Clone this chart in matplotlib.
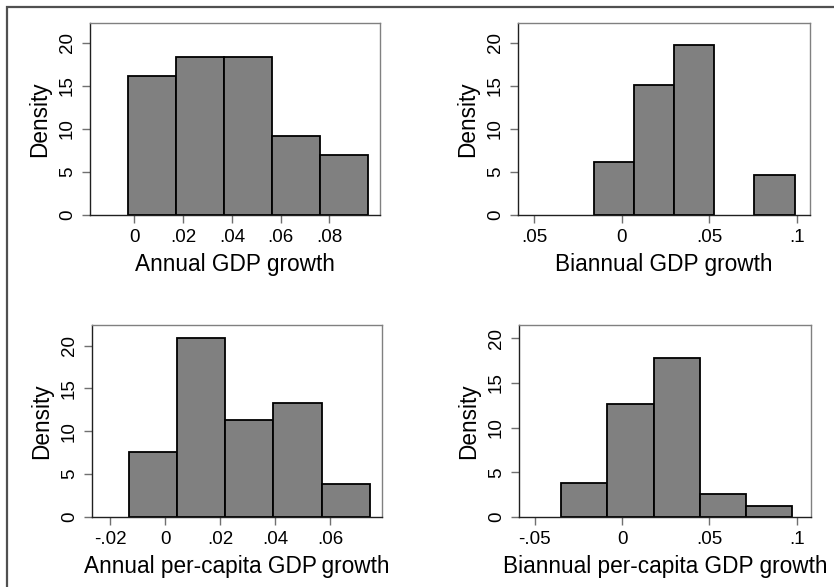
import matplotlib
matplotlib.use("Agg")
import matplotlib.pyplot as plt
from matplotlib.patches import Rectangle

plt.rcParams['font.family'] = ['Liberation Sans', 'DejaVu Sans']

W, H = 834, 587

# histogram data: bin start, bin width, densities
annual_start, annual_width = -0.0027, 0.01968
annual_dens = [16.1, 18.3, 18.3, 9.2, 7.0]

biannual_start, biannual_width = -0.0157, 0.02290
biannual_dens = [6.1, 15.1, 19.7, 0.0, 4.65]

pc_annual_start, pc_annual_width = -0.0133, 0.01753
pc_annual_dens = [7.6, 20.85, 11.36, 13.3, 3.84]

pc_biannual_start, pc_biannual_width = -0.0349, 0.02647
pc_biannual_dens = [3.84, 12.67, 17.77, 2.54, 1.23]

# panels: (start, width, densities, xlabel, xticks, xticklabels, xlim, ylim, box in px)
panels = [
    (annual_start, annual_width, annual_dens, 'Annual GDP growth',
     [0, 0.02, 0.04, 0.06, 0.08], ['0', '.02', '.04', '.06', '.08'],
     (-0.0182, 0.1008), (0, 22.3), (90, 23, 380, 215)),
    (biannual_start, biannual_width, biannual_dens, 'Biannual GDP growth',
     [-0.05, 0, 0.05, 0.1], ['.05', '0', '.05', '.1'],
     (-0.0591, 0.1076), (0, 22.3), (518, 23, 810, 215)),
    (pc_annual_start, pc_annual_width, pc_annual_dens, 'Annual per-capita GDP\u2009growth',
     [-0.02, 0, 0.02, 0.04, 0.06], ['-.02', '0', '.02', '.04', '.06'],
     (-0.02665, 0.0788), (0, 22.4), (92, 325, 382, 517)),
    (pc_biannual_start, pc_biannual_width, pc_biannual_dens, 'Biannual per-capita GDP growth',
     [-0.05, 0, 0.05, 0.1], ['-.05', '0', '.05', '.1'],
     (-0.0591, 0.1082), (0, 21.5), (519, 325, 811, 517)),
]

fig = plt.figure(figsize=(W / 100, H / 100), dpi=100)

# outer frame (left and top edges visible)
fig.patches.append(Rectangle((6.5 / W, -0.1), 1.2, (H - 6.5) / H + 0.1,
                             transform=fig.transFigure, fill=False,
                             edgecolor='#505050', linewidth=1.6))

for start, width, dens, xlabel, xt, xtl, xlim, ylim, box in panels:
    x0, y0, x1, y1 = box
    ax = fig.add_axes([x0 / W, (H - y1) / H, (x1 - x0) / W, (y1 - y0) / H])
    lefts = [start + i * width for i in range(len(dens))]
    for left, d in zip(lefts, dens):
        if d > 0:
            ax.bar(left, d, width=width, align='edge', color='#808080',
                   edgecolor='black', linewidth=1.3)
    ax.set_xlim(*xlim)
    ax.set_ylim(*ylim)
    ax.set_xticks(xt)
    ax.set_xticklabels(xtl)
    ax.set_yticks([0, 5, 10, 15, 20])
    ax.set_yticklabels(['0', '5', '10', '15', '20'], rotation=90, va='center')
    ax.tick_params(axis='both', length=6, width=1, color='#707070',
                   labelsize=13.5, pad=4)
    for s in ['top', 'right']:
        ax.spines[s].set_color('#808080')
        ax.spines[s].set_linewidth(1)
    for s in ['left', 'bottom']:
        ax.spines[s].set_color('#202020')
        ax.spines[s].set_linewidth(1)
    ax.set_xlabel(xlabel, fontsize=16.3, labelpad=5)
    ax.set_ylabel('Density', fontsize=16.3, labelpad=6)

fig.savefig('out.png', dpi=100)
